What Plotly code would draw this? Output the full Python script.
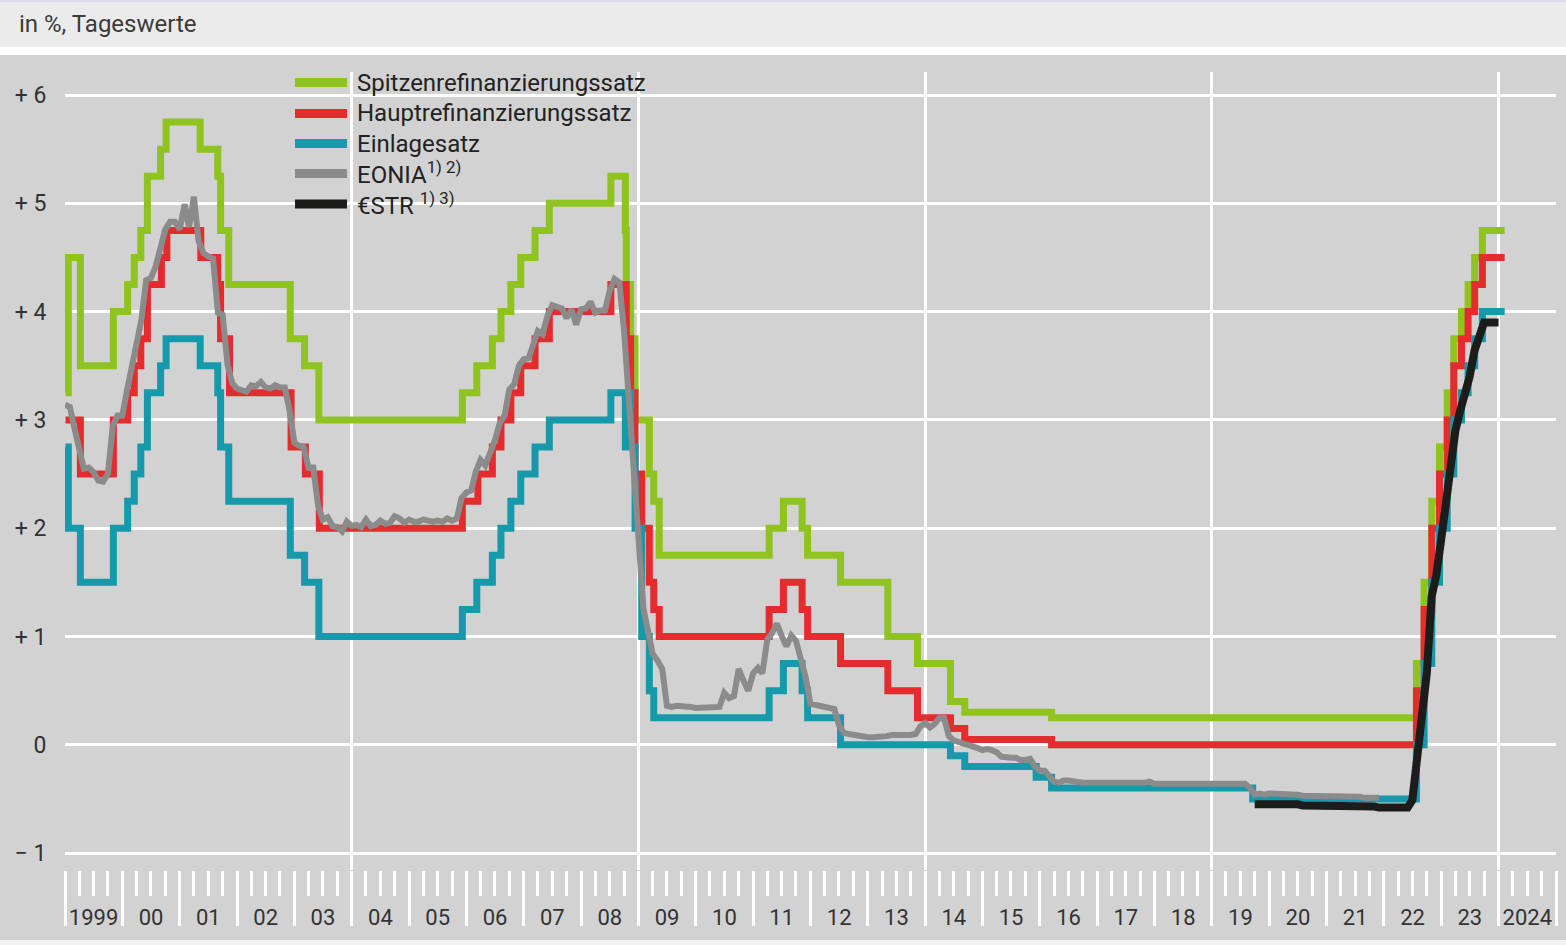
import plotly.graph_objects as go

# ---------------- data ----------------
end_date = "2024-02-09"

mlf_dates = ["1999-01-04","1999-01-22","1999-04-09","1999-11-05","2000-02-04","2000-03-17","2000-04-28",
             "2000-06-09","2000-09-01","2000-10-06","2001-05-11","2001-08-31","2001-09-18","2001-11-09",
             "2002-12-06","2003-03-07","2003-06-06","2005-12-06","2006-03-08","2006-06-15","2006-08-09",
             "2006-10-11","2006-12-13","2007-03-14","2007-06-13","2008-07-09","2008-10-09","2008-10-15",
             "2008-11-12","2008-12-10","2009-01-21","2009-03-11","2009-04-08","2009-05-13","2011-04-13",
             "2011-07-13","2011-11-09","2011-12-14","2012-07-11","2013-05-08","2013-11-13","2014-06-11",
             "2014-09-10","2016-03-16","2022-07-27","2022-09-14","2022-11-02","2022-12-21","2023-02-08",
             "2023-03-22","2023-05-10","2023-06-21","2023-08-02","2023-09-20", end_date]
mlf_values = [3.25,4.50,3.50,4.00,4.25,4.50,4.75,5.25,5.50,5.75,5.50,5.25,4.75,4.25,3.75,3.50,3.00,3.25,
              3.50,3.75,4.00,4.25,4.50,4.75,5.00,5.25,4.75,4.25,3.75,3.00,3.00,2.50,2.25,1.75,2.00,2.25,
              2.00,1.75,1.50,1.00,0.75,0.40,0.30,0.25,0.75,1.50,2.25,2.75,3.25,3.75,4.00,4.25,4.50,4.75,4.75]

mro_dates = ["1999-01-04","1999-04-09","1999-11-05","2000-02-04","2000-03-17","2000-04-28","2000-06-09",
             "2000-09-06","2000-10-11","2001-05-15","2001-08-31","2001-09-18","2001-11-14","2002-12-11",
             "2003-03-12","2003-06-09","2005-12-06","2006-03-15","2006-06-15","2006-08-09","2006-10-11",
             "2006-12-13","2007-03-14","2007-06-13","2008-07-09","2008-10-15","2008-11-12","2008-12-10",
             "2009-01-21","2009-03-11","2009-04-08","2009-05-13","2011-04-13","2011-07-13","2011-11-09",
             "2011-12-14","2012-07-11","2013-05-08","2013-11-13","2014-06-11","2014-09-10","2016-03-16",
             "2022-07-27","2022-09-14","2022-11-02","2022-12-21","2023-02-08","2023-03-22","2023-05-10",
             "2023-06-21","2023-08-02","2023-09-20", end_date]
mro_values = [3.00,2.50,3.00,3.25,3.50,3.75,4.25,4.50,4.75,4.50,4.25,3.75,3.25,2.75,2.50,2.00,2.25,2.50,
              2.75,3.00,3.25,3.50,3.75,4.00,4.25,3.75,3.25,2.50,2.00,1.50,1.25,1.00,1.25,1.50,1.25,1.00,
              0.75,0.50,0.25,0.15,0.05,0.00,0.50,1.25,2.00,2.50,3.00,3.50,3.75,4.00,4.25,4.50,4.50]

df_dates = ["1999-01-04","1999-01-22","1999-04-09","1999-11-05","2000-02-04","2000-03-17","2000-04-28",
            "2000-06-09","2000-09-01","2000-10-06","2001-05-11","2001-08-31","2001-09-18","2001-11-09",
            "2002-12-06","2003-03-07","2003-06-06","2005-12-06","2006-03-08","2006-06-15","2006-08-09",
            "2006-10-11","2006-12-13","2007-03-14","2007-06-13","2008-07-09","2008-10-09","2008-10-15",
            "2008-11-12","2008-12-10","2009-01-21","2009-03-11","2009-04-08","2011-04-13","2011-07-13",
            "2011-11-09","2011-12-14","2012-07-11","2014-06-11","2014-09-10","2015-12-09","2016-03-16",
            "2019-09-18","2022-07-27","2022-09-14","2022-11-02","2022-12-21","2023-02-08","2023-03-22",
            "2023-05-10","2023-06-21","2023-08-02","2023-09-20", end_date]
df_values = [2.75,2.00,1.50,2.00,2.25,2.50,2.75,3.25,3.50,3.75,3.50,3.25,2.75,2.25,1.75,1.50,1.00,1.25,
             1.50,1.75,2.00,2.25,2.50,2.75,3.00,3.25,2.75,3.25,2.75,2.00,1.00,0.50,0.25,0.50,0.75,0.50,
             0.25,0.00,-0.10,-0.20,-0.30,-0.40,-0.50,0.00,0.75,1.50,2.00,2.50,3.00,3.25,3.50,3.75,4.00,4.00]

# EONIA, monthly values (Jan 1999 - Dec 2021)
eonia_start_year = 1999
eonia_values = [
    3.14, 3.12, 2.93, 2.71, 2.55, 2.56, 2.52, 2.44, 2.43, 2.50, 2.94, 3.04,   # 1999
    3.04, 3.28, 3.51, 3.69, 3.92, 4.29, 4.31, 4.42, 4.59, 4.76, 4.83, 4.83,   # 2000
    4.76, 4.99, 4.78, 5.06, 4.65, 4.54, 4.51, 4.49, 3.99, 3.97, 3.51, 3.34,   # 2001
    3.29, 3.28, 3.26, 3.32, 3.31, 3.35, 3.30, 3.29, 3.32, 3.30, 3.30, 3.09,   # 2002
    2.79, 2.76, 2.75, 2.56, 2.56, 2.21, 2.08, 2.10, 2.02, 2.01, 1.97, 2.06,   # 2003
    2.02, 2.03, 2.01, 2.08, 2.02, 2.03, 2.07, 2.04, 2.05, 2.11, 2.09, 2.05,   # 2004
    2.08, 2.06, 2.06, 2.08, 2.07, 2.06, 2.07, 2.06, 2.09, 2.07, 2.09, 2.28,   # 2005
    2.33, 2.35, 2.52, 2.63, 2.58, 2.70, 2.81, 2.97, 3.04, 3.28, 3.33, 3.50,   # 2006
    3.56, 3.57, 3.69, 3.82, 3.79, 3.96, 4.06, 4.05, 4.03, 3.94, 4.02, 3.88,   # 2007
    4.02, 4.03, 4.09, 3.99, 4.01, 4.01, 4.19, 4.30, 4.27, 3.82, 3.15, 2.49,   # 2008
    1.81, 1.26, 1.06, 0.84, 0.78, 0.70, 0.36, 0.35, 0.36, 0.36, 0.36, 0.35,   # 2009
    0.34, 0.34, 0.35, 0.35, 0.34, 0.35, 0.48, 0.43, 0.45, 0.70, 0.59, 0.50,   # 2010
    0.66, 0.71, 0.66, 0.97, 1.03, 1.12, 1.01, 0.91, 1.01, 0.96, 0.79, 0.63,   # 2011
    0.38, 0.37, 0.36, 0.35, 0.34, 0.33, 0.18, 0.11, 0.10, 0.09, 0.08, 0.07,   # 2012
    0.07, 0.07, 0.07, 0.08, 0.08, 0.09, 0.09, 0.08, 0.08, 0.09, 0.10, 0.17,   # 2013
    0.20, 0.16, 0.19, 0.25, 0.25, 0.08, 0.04, 0.02, 0.01, 0.00, -0.01, -0.03, # 2014
    -0.05, -0.04, -0.05, -0.07, -0.11, -0.12, -0.12, -0.12, -0.14, -0.14, -0.13, -0.20,  # 2015
    -0.24, -0.24, -0.29, -0.34, -0.35, -0.33, -0.33, -0.34, -0.34, -0.35, -0.35, -0.35,  # 2016
    -0.35, -0.35, -0.35, -0.36, -0.36, -0.36, -0.36, -0.36, -0.36, -0.36, -0.35, -0.34,  # 2017
    -0.36, -0.36, -0.36, -0.37, -0.37, -0.36, -0.36, -0.36, -0.37, -0.37, -0.36, -0.36,  # 2018
    -0.37, -0.37, -0.37, -0.37, -0.37, -0.36, -0.37, -0.36, -0.40, -0.46, -0.45, -0.46,  # 2019
    -0.45, -0.45, -0.45, -0.46, -0.46, -0.46, -0.46, -0.47, -0.47, -0.47, -0.47, -0.47,  # 2020
    -0.48, -0.48, -0.48, -0.48, -0.48, -0.48, -0.48, -0.48, -0.49, -0.49, -0.49, -0.49,  # 2021
]

# €STR, monthly values (Oct 2019 - Jan 2024)
estr_start = (2019, 10)
estr_values = [
    -0.55, -0.55, -0.54,                                                          # 2019
    -0.54, -0.54, -0.54, -0.54, -0.55, -0.55, -0.55, -0.56, -0.56, -0.56, -0.56, -0.56,  # 2020
    -0.56, -0.56, -0.56, -0.57, -0.57, -0.57, -0.57, -0.57, -0.57, -0.57, -0.57, -0.58,  # 2021
    -0.58, -0.58, -0.58, -0.58, -0.59, -0.58, -0.51, -0.09, 0.36, 0.66, 1.37, 1.57,      # 2022
    1.90, 2.28, 2.57, 2.90, 3.08, 3.24, 3.40, 3.64, 3.75, 3.90, 3.90, 3.90,               # 2023
    3.90,                                                                                # 2024
]

year_labels = ["1999"] + [f"{y % 100:02d}" for y in range(2000, 2024)] + ["2024"]
y_ticks = [-1, 0, 1, 2, 3, 4, 5, 6]
y_ticktext = ["\u2212 1", "0", "+ 1", "+ 2", "+ 3", "+ 4", "+ 5", "+ 6"]

series_names = ["Spitzenrefinanzierungssatz", "Hauptrefinanzierungssatz", "Einlagesatz",
                "EONIA<sup>1) 2)</sup>", "\u20acSTR <sup>1) 3)</sup>"]


def month_dates(y0, m0, n):
    out = []
    y, m = y0, m0
    for _ in range(n):
        out.append(f"{y:04d}-{m:02d}-01")
        m += 1
        if m > 12:
            m = 1
            y += 1
    return out


eonia_dates = month_dates(eonia_start_year, 1, len(eonia_values))
estr_dates = month_dates(estr_start[0], estr_start[1], len(estr_values))

# ---------------- style ----------------
GREEN = "#8fc31f"
RED = "#e42c2f"
TEAL = "#1699aa"
GRAY = "#8b8b8b"
BLACK = "#1c1c1a"
BG = "#d2d2d2"
HEADER = "#ebebeb"
TXT = "#333333"
FONT = "Roboto, 'Open Sans', sans-serif"

W, H = 1566, 945
ML, MR, MT, MB = 65, 10, 72, 75
PW, PH = W - ML - MR, H - MT - MB
PX_PER_UNIT = 108.3
y_max = 6 + (95 - MT) / PX_PER_UNIT
y_min = y_max - PH / PX_PER_UNIT
x_range = ["1999-01-01", "2025-01-01"]


def pxx(px):
    return (px - ML) / PW


def pxy(py):
    return (H - MB - py) / PH


fig = go.Figure()
fig.add_trace(go.Scatter(x=mlf_dates, y=mlf_values, mode="lines", line=dict(color=GREEN, width=7, shape="hv"),
                         hoverinfo="skip"))
fig.add_trace(go.Scatter(x=mro_dates, y=mro_values, mode="lines", line=dict(color=RED, width=7, shape="hv"),
                         hoverinfo="skip"))
fig.add_trace(go.Scatter(x=df_dates, y=df_values, mode="lines", line=dict(color=TEAL, width=7, shape="hv"),
                         hoverinfo="skip"))
fig.add_trace(go.Scatter(x=eonia_dates, y=eonia_values, mode="lines", line=dict(color=GRAY, width=6),
                         hoverinfo="skip"))
fig.add_trace(go.Scatter(x=estr_dates, y=estr_values, mode="lines", line=dict(color=BLACK, width=8),
                         hoverinfo="skip"))
# empty carriers so the overlaid tick / grid axes are drawn
fig.add_trace(go.Scatter(x=[], y=[], xaxis="x2", yaxis="y", mode="lines", hoverinfo="skip"))
fig.add_trace(go.Scatter(x=[], y=[], xaxis="x3", yaxis="y", mode="lines", hoverinfo="skip"))

label_vals = [f"{y}-07-02" for y in range(1999, 2025)]

fig.update_layout(
    width=W, height=H,
    margin=dict(l=ML, r=MR, t=MT, b=MB, pad=0),
    paper_bgcolor=BG, plot_bgcolor=BG,
    showlegend=False,
    font=dict(family=FONT, color=TXT),
    xaxis=dict(type="date", range=x_range, tickmode="array", tickvals=label_vals, ticktext=year_labels,
               ticks="outside", ticklen=28, tickcolor="rgba(0,0,0,0)", showgrid=False, zeroline=False,
               showline=False, tickfont=dict(size=22, color=TXT), fixedrange=True),
    xaxis2=dict(type="date", range=x_range, overlaying="x", anchor="y", side="bottom",
                tickmode="linear", tick0="1999-01-01", dtick="M12",
                ticks="outside", ticklen=55, tickwidth=3, tickcolor="white", showticklabels=False,
                showgrid=False, zeroline=False, showline=False, fixedrange=True,
                minor=dict(dtick="M3", tick0="1999-01-01", ticks="outside", ticklen=25, tickwidth=2.5,
                           tickcolor="white", showgrid=False)),
    xaxis3=dict(type="date", range=x_range, overlaying="x", anchor="y", side="bottom",
                tickmode="array", tickvals=["2004-01-01", "2009-01-01", "2014-01-01", "2019-01-01", "2024-01-01"],
                ticks="", showticklabels=False, showgrid=True, gridcolor="white", gridwidth=3,
                zeroline=False, showline=False, fixedrange=True),
    yaxis=dict(range=[y_min, y_max], tickmode="array", tickvals=y_ticks, ticktext=y_ticktext,
               showgrid=True, gridcolor="white", gridwidth=3, zeroline=False, showline=False,
               ticks="outside", ticklen=13, tickcolor="rgba(0,0,0,0)", tickfont=dict(size=23, color=TXT),
               fixedrange=True),
)

shapes = []
# header band, white strip, frame details
shapes.append(dict(type="rect", xref="paper", yref="paper", x0=pxx(-5), x1=pxx(W + 5), y0=pxy(55), y1=pxy(-5),
                   fillcolor="white", line=dict(width=0), layer="above"))
shapes.append(dict(type="rect", xref="paper", yref="paper", x0=pxx(-5), x1=pxx(W + 5), y0=pxy(47), y1=pxy(2),
                   fillcolor=HEADER, line=dict(width=0), layer="above"))
shapes.append(dict(type="rect", xref="paper", yref="paper", x0=pxx(-5), x1=pxx(W + 5), y0=pxy(2), y1=pxy(-5),
                   fillcolor="#dcdcec", line=dict(width=0), layer="above"))
shapes.append(dict(type="rect", xref="paper", yref="paper", x0=pxx(-5), x1=pxx(W + 5), y0=pxy(H + 5), y1=pxy(940),
                   fillcolor="#f2f2f2", line=dict(width=0), layer="above"))
# legend masks (cover gridlines behind legend text)
for (x0, x1, y0, y1) in [(275, 467, 62, 235), (467, 672, 62, 110), (467, 657, 100, 148)]:
    shapes.append(dict(type="rect", xref="paper", yref="paper", x0=pxx(x0), x1=pxx(x1), y0=pxy(y1), y1=pxy(y0),
                       fillcolor=BG, line=dict(width=0), layer="between"))

legend_rows = [82.5, 113.5, 143.5, 173.5, 204]
legend_colors = [GREEN, RED, TEAL, GRAY, BLACK]
annotations = []
for name, col, ry in zip(series_names, legend_colors, legend_rows):
    shapes.append(dict(type="line", xref="paper", yref="paper", x0=pxx(295), x1=pxx(347), y0=pxy(ry), y1=pxy(ry),
                       line=dict(color=col, width=9), layer="above"))
    annotations.append(dict(xref="paper", yref="paper", x=pxx(355), y=pxy(ry), xanchor="left", yanchor="middle",
                            text=name, showarrow=False, font=dict(size=24, color="#222222", family=FONT)))

annotations.append(dict(xref="paper", yref="paper", x=pxx(17), y=pxy(24), xanchor="left", yanchor="middle",
                        text="in %, Tageswerte", showarrow=False, font=dict(size=24, color="#3a3a3a", family=FONT)))

fig.update_layout(shapes=shapes, annotations=annotations)

fig.write_html("out.html", config={"displayModeBar": False},
               post_script="document.body.style.margin='0';document.body.style.padding='0';")
